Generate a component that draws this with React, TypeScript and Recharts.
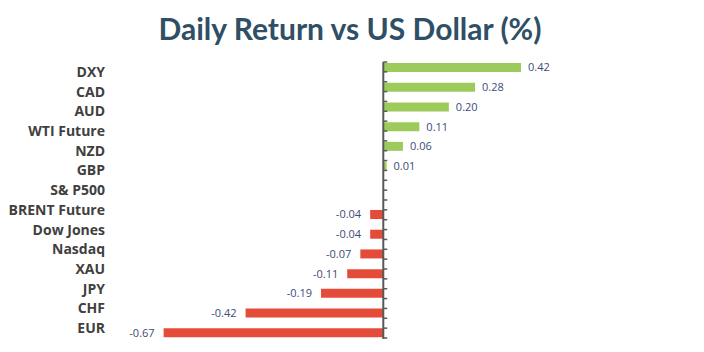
import React from 'react'
import {
  BarChart,
  Bar,
  XAxis,
  YAxis,
  LabelList,
  ReferenceLine,
} from 'recharts'

const categories = [
  'DXY',
  'CAD',
  'AUD',
  'WTI Future',
  'NZD',
  'GBP',
  'S& P500',
  'BRENT Future',
  'Dow Jones',
  'Nasdaq',
  'XAU',
  'JPY',
  'CHF',
  'EUR',
]

const returns = [0.42, 0.28, 0.2, 0.11, 0.06, 0.01, 0, -0.04, -0.04, -0.07, -0.11, -0.19, -0.42, -0.67]

const xDomain: [number, number] = [-0.8, 0.6]

const GREEN = '#9ccb5b'
const RED = '#e54b39'

// gains sit in the upper slot, losses in the lower slot of each band
const chartData = categories.map((name, i) => ({
  name,
  gain: returns[i] > 0 ? returns[i] : null,
  loss: returns[i] < 0 ? returns[i] : null,
}))

const fmt = (v: any) => (v == null ? '' : Number(v).toFixed(2))

// zero axis with small ticks every half band
const ZeroAxis = (props: any) => {
  const { x1, y1, y2 } = props
  const top = Math.min(y1, y2)
  const bottom = Math.max(y1, y2)
  const n = categories.length * 2
  const step = (bottom - top) / n
  const ticks = []
  for (let i = 0; i <= n; i++) {
    const y = top + i * step
    ticks.push(<line key={i} x1={x1} x2={x1 + 4} y1={y} y2={y} stroke="#595959" strokeWidth={1.5} />)
  }
  return (
    <g>
      <line x1={x1} x2={x1} y1={top} y2={bottom + 1} stroke="#595959" strokeWidth={2} />
      {ticks}
    </g>
  )
}

export default function App() {
  return (
    <div style={{ position: 'absolute', left: 0, top: 0, width: 704, height: 352, background: '#fff' }}>
      <div
        style={{
          position: 'absolute',
          top: 9,
          left: 0,
          width: 700,
          textAlign: 'center',
          fontFamily: 'Lato, sans-serif',
          fontWeight: 700,
          fontSize: 30,
          color: '#2f4f66',
          lineHeight: '38px',
        }}
      >
        Daily Return vs US Dollar (%)
      </div>
      <BarChart
        width={704}
        height={352}
        data={chartData}
        layout="vertical"
        margin={{ top: 62, right: 124, bottom: 14, left: 11 }}
        barCategoryGap={1}
        barGap={0}
      >
        <XAxis type="number" hide domain={xDomain} allowDataOverflow />
        <YAxis
          type="category"
          dataKey="name"
          width={110}
          axisLine={false}
          tickLine={false}
          tickSize={0}
          tickMargin={16}
          interval={0}
          tick={{ fontSize: 14, fontWeight: 700, fill: '#404040', fontFamily: 'Open Sans, sans-serif' }}
        />
        <Bar dataKey="gain" fill={GREEN} isAnimationActive={false}>
          <LabelList
            dataKey="gain"
            position="right"
            offset={7}
            formatter={fmt}
            style={{ fontSize: 11, fill: '#3c4b78', fontFamily: 'Open Sans, sans-serif' }}
          />
        </Bar>
        <Bar dataKey="loss" fill={RED} isAnimationActive={false}>
          <LabelList
            dataKey="loss"
            position="right"
            offset={9}
            formatter={fmt}
            style={{ fontSize: 11, fill: '#3c4b78', fontFamily: 'Open Sans, sans-serif' }}
          />
        </Bar>
        <ReferenceLine x={0} shape={ZeroAxis} />
      </BarChart>
    </div>
  )
}
